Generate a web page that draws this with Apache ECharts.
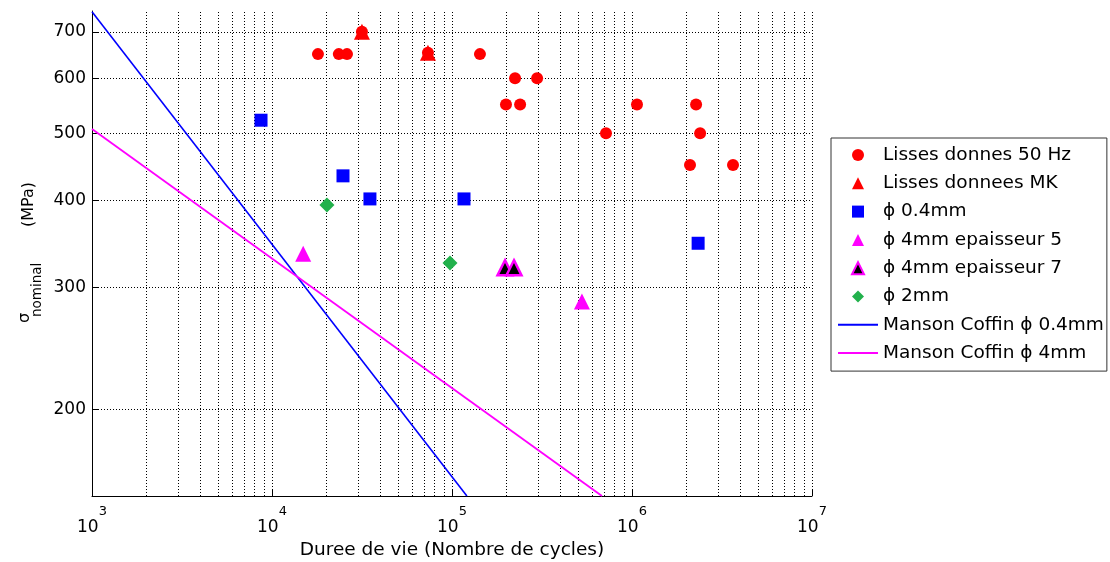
<!DOCTYPE html>
<html><head><meta charset="utf-8">
<script src="https://cdn.jsdelivr.net/npm/echarts@6/dist/echarts.min.js"></script>
<style>html,body{margin:0;padding:0;background:#fff}#c{width:1110px;height:562px}</style>
</head><body><div id="c"></div>
<script>
// ---- data (N cycles, sigma MPa) ----
const lisses50Hz = [[18000,650],[23500,650],[26100,650],[31600,700],[73500,653],[143000,650],[224000,600],[297000,600],[199500,550],[239000,550],[1066000,550],[2270000,550],[717000,500],[2390000,500],[2100000,450],[3640000,450]];
const lissesMK = [[31600,700],[73500,653]];
const phi04 = [[8690,522],[24800,434],[35000,402],[116600,402],[2330000,347]];
const phi4ep5 = [[14900,335],[527000,286]];
const phi4ep7 = [[197000,320],[221000,320]];
const phi2 = [[20200,394],[97500,325]];
const mansonCoffin04 = [[1000,748],[121000,150]];
const mansonCoffin4 = [[1000,507],[681000,150]];
// ---- ticks / grid ----
const yTickValues = [200,300,400,500,600,700];
const xGridValues = [2000,3000,4000,5000,6000,7000,8000,9000,10000,
  20000,30000,40000,50000,60000,70000,80000,90000,100000,
  200000,300000,400000,500000,600000,700000,800000,900000,1000000,
  2000000,3000000,4000000,5000000,6000000,7000000,8000000,9000000,10000000];
const names = ['Lisses donnes 50 Hz','Lisses donnees MK','\u03d5 0.4mm','\u03d5 4mm epaisseur 5','\u03d5 4mm epaisseur 7','\u03d5 2mm','Manson Coffin \u03d5 0.4mm','Manson Coffin \u03d5 4mm'];

const FONT = 'DejaVu Sans';
const TRI = 'path://M0,-1L1,1L-1,1Z';
const SQ = 'path://M0,0L1,0L1,1L0,1Z';
const DIA = 'path://M0,-1L1,0L0,1L-1,0Z';
const LINEICON = 'path://M0,0L40,0L40,2L0,2Z';
const legendIcons = ['circle', TRI, SQ, TRI, TRI, DIA, LINEICON, LINEICON];
const gridLine = {color:'#000', width:1, type:[1,2]};
const chart = echarts.init(document.getElementById('c'));
chart.setOption({
  animation:false,
  backgroundColor:'#fff',
  textStyle:{fontFamily:FONT},
  grid:{left:92, right:298, top:11, bottom:66, containLabel:false, outerBoundsMode:'none'},
  xAxis:{
    type:'log', logBase:10, min:1000, max:10000000,
    name:'Duree de vie (Nombre de cycles)', nameLocation:'middle', nameGap:36,
    nameTextStyle:{fontFamily:FONT, fontSize:18.5, color:'#000'},
    axisLine:{show:true, onZero:false, lineStyle:{color:'#000', width:1}},
    axisTick:{show:true, inside:true, length:7, lineStyle:{color:'#000'}},
    splitLine:{show:false},
    axisLabel:{margin:16, color:'#000',
      formatter:function(v){return '{b|10}{sup|'+Math.round(Math.log10(v))+'}';},
      rich:{
        b:{fontFamily:FONT, fontSize:17, lineHeight:17, padding:[14,0,0,0], color:'#000'},
        sup:{fontFamily:FONT, fontSize:13, lineHeight:13, padding:[0,0,18,0], color:'#000'}
      }}
  },
  yAxis:{
    type:'log', logBase:10, min:150, max:750,
    axisLine:{show:true, onZero:false, lineStyle:{color:'#000', width:1}},
    axisTick:{show:true, inside:true, length:6, customValues:yTickValues, lineStyle:{color:'#000'}},
    axisLabel:{show:false}, splitLine:{show:false}
  },
  legend:{
    orient:'vertical', left:831, top:138,
    padding:[7,3,8,7], itemGap:8.3, itemWidth:40, itemHeight:12, symbolKeepAspect:true,
    borderColor:'#333', borderWidth:1, backgroundColor:'#fff',
    textStyle:{fontFamily:FONT, fontSize:18.5, lineHeight:20, color:'#000'},
    data:names.map((n,i)=>({name:n, icon:legendIcons[i]}))
  },
  graphic:[
    {type:'text', x:25, y:323, rotation:Math.PI/2,
      style:{text:'\u03c3', font:'16px "DejaVu Sans"', fill:'#000', align:'left', verticalAlign:'middle'}},
    {type:'text', x:37.5, y:317, rotation:Math.PI/2,
      style:{text:'nominal', font:'13.5px "DejaVu Sans"', fill:'#000', align:'left', verticalAlign:'middle'}},
    {type:'text', x:29, y:227, rotation:Math.PI/2,
      style:{text:'(MPa)', font:'16px "DejaVu Sans"', fill:'#000', align:'left', verticalAlign:'middle'}}
  ],
  series:[
    {name:names[0], type:'scatter', data:lisses50Hz, symbol:'circle', symbolSize:12, z:4,
      itemStyle:{color:'#ff0000', opacity:1},
      markLine:{silent:true, symbol:['none','none'], z:1, animation:false,
        lineStyle:gridLine,
        label:{show:false},
        data:xGridValues.map(v=>({xAxis:v}))}},
    {name:names[1], type:'scatter', data:lissesMK, symbol:'triangle', symbolSize:16, z:5,
      itemStyle:{color:'#ff0000', opacity:1},
      markLine:{silent:true, symbol:['none','none'], z:1, animation:false,
        lineStyle:gridLine,
        label:{show:true, position:'start', distance:6, formatter:'{c}', color:'#000', fontFamily:FONT, fontSize:17},
        data:yTickValues.map(v=>({yAxis:v}))}},
    {name:names[2], type:'scatter', data:phi04, symbol:'rect', symbolSize:13, z:4,
      itemStyle:{color:'#0000ff', opacity:1}},
    {name:names[3], type:'scatter', data:phi4ep5, symbol:'triangle', symbolSize:16, z:4,
      itemStyle:{color:'#ff00ff', opacity:1}},
    {name:names[4], type:'scatter', data:phi4ep7, symbol:'triangle', symbolSize:15, z:4,
      itemStyle:{color:'#000000', borderColor:'#ff00ff', borderWidth:2.5, opacity:1}},
    {name:names[5], type:'scatter', data:phi2, symbol:'diamond', symbolSize:15, z:4,
      itemStyle:{color:'#22b14c', opacity:1}},
    {name:names[6], type:'line', data:mansonCoffin04, symbol:'none', z:3,
      lineStyle:{color:'#0000ff', width:1.6}, itemStyle:{color:'#0000ff'}},
    {name:names[7], type:'line', data:mansonCoffin4, symbol:'none', z:3,
      lineStyle:{color:'#ff00ff', width:1.8}, itemStyle:{color:'#ff00ff'}}
  ]
});
</script></body></html>
